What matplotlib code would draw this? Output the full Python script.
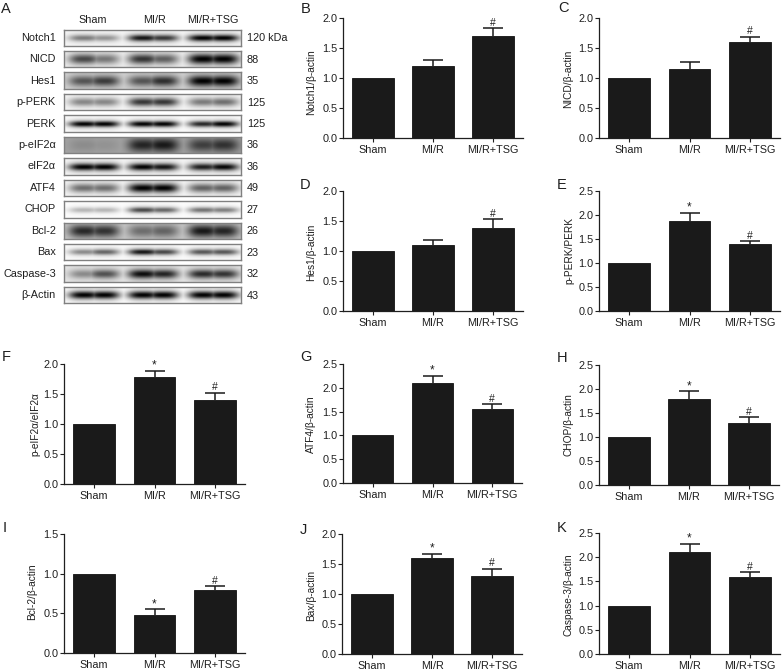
import numpy as np
import matplotlib
matplotlib.use("Agg")
import matplotlib.pyplot as plt

plt.rcParams['font.family'] = ['Liberation Sans', 'DejaVu Sans']
W, H = 784, 670
INK = '#1f1f1f'

groups = ['Sham', 'MI/R', 'MI/R+TSG']

# ---- bar panels -----
notch1 = [1.0, 1.2, 1.7];   notch1_err = [0, 0.10, 0.13]
nicd = [1.0, 1.15, 1.6];    nicd_err = [0, 0.12, 0.09]
hes1 = [1.0, 1.1, 1.38];    hes1_err = [0, 0.09, 0.15]
pperk = [1.0, 1.88, 1.39];  pperk_err = [0, 0.17, 0.07]
peif = [1.0, 1.78, 1.4];    peif_err = [0, 0.11, 0.12]
atf4 = [1.0, 2.1, 1.55];    atf4_err = [0, 0.15, 0.10]
chop = [1.0, 1.8, 1.3];     chop_err = [0, 0.15, 0.11]
bcl2 = [1.0, 0.48, 0.8];    bcl2_err = [0, 0.07, 0.04]
bax = [1.0, 1.6, 1.3];      bax_err = [0, 0.07, 0.12]
casp3 = [1.0, 2.1, 1.6];    casp3_err = [0, 0.17, 0.09]

# letter, ylabel, values, errors, marks, ymax,
# (left, top, bottom, right) px, (ylabel x, ylabel y) px, (letter x, letter y) px
panels = [
    ('B', 'Notch1/β-actin', notch1, notch1_err, ['', '', '#'], 2.0, (343, 18, 138, 523), (311, 82), (301, 9)),
    ('C', 'NICD/β-actin', nicd, nicd_err, ['', '', '#'], 2.0, (599, 18, 138, 780), (568, 79), (558, 8)),
    ('D', 'Hes1/β-actin', hes1, hes1_err, ['', '', '#'], 2.0, (343, 191, 311, 523), (311, 252), (300, 185)),
    ('E', 'p-PERK/PERK', pperk, pperk_err, ['', '*', '#'], 2.5, (599, 191, 311, 780), (569, 251), (557, 185)),
    ('F', 'p-eIF2α/eIF2α', peif, peif_err, ['', '*', '#'], 2.0, (64, 364, 484, 245), (35, 424), (2, 357)),
    ('G', 'ATF4/β-actin', atf4, atf4_err, ['', '*', '#'], 2.5, (343, 364, 483, 522), (311, 424), (300, 357)),
    ('H', 'CHOP/β-actin', chop, chop_err, ['', '*', '#'], 2.5, (599, 365, 485, 779), (568, 425), (557, 358)),
    ('I', 'Bcl-2/β-actin', bcl2, bcl2_err, ['', '*', '#'], 1.5, (64, 534, 653, 245), (32, 592), (3, 528)),
    ('J', 'Bax/β-actin', bax, bax_err, ['', '*', '#'], 2.0, (342, 534, 654, 522), (311, 595), (300, 530)),
    ('K', 'Caspase-3/β-actin', casp3, casp3_err, ['', '*', '#'], 2.5, (599, 533, 654, 780), (568, 595), (557, 528)),
]

# ---- western blot: darkness of the two humps in each of the three lanes -----
blot_names = ['Notch1', 'NICD', 'Hes1', 'p-PERK', 'PERK', 'p-eIF2α', 'eIF2α',
              'ATF4', 'CHOP', 'Bcl-2', 'Bax', 'Caspase-3', 'β-Actin']
blot_kda = ['120 kDa', '88', '35', '125', '125', '36', '36', '49', '27', '26', '23', '32', '43']
blot_bg = [0.04, 0.07, 0.18, 0.04, 0.02, 0.36, 0.04, 0.04, 0.01, 0.22, 0.02, 0.10, 0.02]
blot_sigma = [2.2, 3.4, 3.5, 2.8, 2.0, 4.5, 2.4, 3.0, 1.9, 4.2, 2.0, 3.0, 2.6]
blot_sham = [(.50, .40), (.70, .50), (.60, .72), (.45, .45), (1, 1), (.14, .10),
             (1, 1), (.55, .55), (.28, .28), (.80, .75), (.45, .60), (.40, .65), (1, 1)]
blot_mir = [(.92, .78), (.78, .60), (.60, .78), (.78, .78), (1, 1), (.78, .85),
            (1, .92), (1, 1), (.72, .60), (.45, .50), (.92, .72), (.95, .85), (1, 1)]
blot_tsg = [(1, 1), (1, 1), (1, 1), (.50, .55), (.85, 1), (.62, .70),
            (.88, .98), (.60, .60), (.55, .50), (.88, .82), (.66, .66), (.82, .78), (1, 1)]

fig = plt.figure(figsize=(W / 100, H / 100), dpi=100)
fig.patch.set_facecolor('white')


def px_axes(left, top, bottom, right):
    return fig.add_axes([left / W, 1 - bottom / H, (right - left) / W, (bottom - top) / H])


def ftext(x, y, s, **kw):
    kw.setdefault('color', INK)
    fig.text(x / W, 1 - y / H, s, **kw)


# blot rows
row_top, row_step, row_h = 29.5, 21.45, 16.5
box_l, box_r = 63.5, 241
lane_c = [30.0, 89.0, 149.0]
xx = np.linspace(0, box_r - box_l, 360)
yy = np.linspace(0, row_h, 70)
X, Y = np.meshgrid(xx, yy)
for i, name in enumerate(blot_names):
    top = row_top + i * row_step
    ax = px_axes(box_l, top, top + row_h, box_r)
    dark = np.full(X.shape, blot_bg[i], dtype=float)
    for c, (a, b) in zip(lane_c, (blot_sham[i], blot_mir[i], blot_tsg[i])):
        for off, amp in ((-10, a), (10, b)):
            fx = np.exp(-np.abs((X - c - off) / 15.5) ** 3)
            fy = np.exp(-((Y - row_h / 2 - 0.5) ** 2) / (2 * blot_sigma[i] ** 2))
            halo = np.exp(-((Y - row_h / 2 - 0.5) ** 2) / (2 * (blot_sigma[i] * 2.0) ** 2))
            band = amp * fx * (0.85 * fy + 0.15 * halo)
            dark = np.maximum(dark, blot_bg[i] + (1 - blot_bg[i]) * band)
    ax.imshow(1 - dark, cmap='gray', vmin=0, vmax=1, aspect='auto',
              extent=(0, box_r - box_l, row_h, 0), interpolation='bilinear')
    ax.set_xticks([]); ax.set_yticks([])
    for s in ax.spines.values():
        s.set_color('#808080'); s.set_linewidth(1.0)
    yc = top + row_h / 2
    ftext(56, yc, name, ha='right', va='center', fontsize=7.8)
    ftext(247, yc + 0.5, blot_kda[i], ha='left', va='center', fontsize=7.8)

for g, xc in zip(groups, (93, 154, 213)):
    ftext(xc, 20, g, ha='center', va='center', fontsize=7.8)
ftext(1, 9, 'A', ha='left', va='center', fontsize=10.5)

# bar panels
for letter, ylab, vals, errs, marks, ymax, (l, t, b, r), (lx, ly), (tx, ty) in panels:
    ax = px_axes(l, t, b, r)
    pos = np.arange(len(groups))
    ax.bar(pos, vals, width=0.69, color='#1a1a1a', edgecolor='#111111', linewidth=0.6, zorder=2)
    cont = ax.errorbar(pos[1:], vals[1:], yerr=[np.zeros(2), errs[1:]], fmt='none', ecolor='#1a1a1a',
                       elinewidth=1.1, capsize=7.5, capthick=1.1, zorder=1)
    cont[1][0].set_visible(False)  # hide the lower caps: only upper whiskers are drawn
    ax.set_xlim(-0.5, 2.5)
    ax.set_ylim(0, ymax)
    ax.set_yticks(np.arange(0, ymax + 0.01, 0.5))
    ax.set_yticklabels([f'{v:.1f}' for v in np.arange(0, ymax + 0.01, 0.5)])
    ax.set_xticks(pos)
    ax.set_xticklabels(groups)
    ax.tick_params(axis='both', length=2.6, width=0.8, color=INK, labelcolor=INK,
                   labelsize=7.8, pad=1.5)
    ax.tick_params(axis='x', pad=2.2)
    for s in ('top', 'right'):
        ax.spines[s].set_visible(False)
    for s in ('left', 'bottom'):
        ax.spines[s].set_linewidth(0.9); ax.spines[s].set_color(INK)
    ax.patch.set_alpha(0)
    for p, v, e, m in zip(pos, vals, errs, marks):
        if m:
            ax.annotate(m, (p, v + e), xytext=(0, 0.3 if m == '#' else -0.5),
                        textcoords='offset points', ha='center', va='bottom',
                        fontsize=7.5 if m == '#' else 8.5, color=INK)
    ftext(lx, ly, ylab, rotation=90, ha='center', va='center', fontsize=7.3)
    ftext(tx, ty, letter, ha='left', va='center', fontsize=10.5)

fig.savefig('out.png', dpi=100, facecolor='white')
